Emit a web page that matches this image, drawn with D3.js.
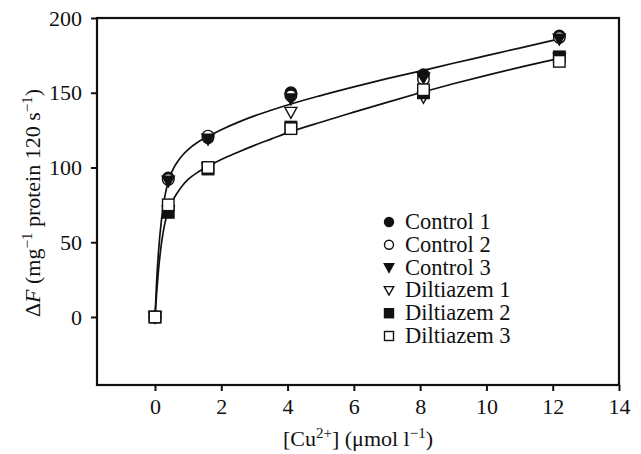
<!DOCTYPE html>
<html><head><meta charset="utf-8">
<script src="https://cdn.jsdelivr.net/npm/d3@7"></script>
<style>body{margin:0;background:#fff}</style>
</head><body>
<svg id="c" width="641" height="454"></svg>
<script>
// ---- data ----
const concentrations = [0, 0.4, 1.6, 4.1, 8.1, 12.2];
const control1   = [0, 93, 120, 150, 162, 188];
const control2   = [0, 92, 121, 148, 159, 187];
const control3   = [0, 91, 119, 146, 160, 186];
const diltiazem1 = [0, 71, 100, 137, 147, 173];
const diltiazem2 = [0, 70,  99, 127, 150, 174];
const diltiazem3 = [0, 75, 100, 126, 152, 171];
const seriesNames = ["Control 1", "Control 2", "Control 3", "Diltiazem 1", "Diltiazem 2", "Diltiazem 3"];
// fitted curves
const controlFitX   = [0, 0.05, 0.1, 0.2, 0.3, 0.42, 0.55, 0.7, 0.85, 1.0, 1.3, 1.62, 2.0, 2.5, 3.0, 3.5, 4.1, 5, 6, 7, 8, 9, 10, 11, 12.2];
const controlFitY   = [0, 24, 42, 66, 81, 92, 99, 104.5, 108.7, 112, 117, 121, 125.3, 130.2, 134.5, 138.3, 142.5, 148.1, 153.9, 159.4, 164.5, 169.7, 174.8, 179.9, 186];
const diltiazemFitX = [0, 0.05, 0.1, 0.2, 0.3, 0.42, 0.55, 0.7, 0.85, 1.0, 1.3, 1.62, 2.0, 2.5, 3.0, 3.5, 4.1, 5, 6, 7, 8, 9, 10, 11, 12.2];
const diltiazemFitY = [0, 16, 30, 50, 63, 72, 78.5, 84, 88.5, 92, 97, 101, 105.3, 110.2, 114.8, 119, 124, 130.3, 137, 143.6, 150, 156, 161.6, 167, 173];
const xTicks = [0, 2, 4, 6, 8, 10, 12, 14];
const yTicks = [0, 50, 100, 150, 200];

const seriesValues = [control1, control2, control3, diltiazem1, diltiazem2, diltiazem3];
const seriesShapes = ["circle", "circle", "triangle", "triangle", "square", "square"];
const seriesFilled = [true, false, true, false, true, false];

const W = 641, H = 454;
const m = {left: 97, right: 22, top: 18, bottom: 69};
const svg = d3.select("#c");
const font = "'Liberation Serif','Times New Roman',Times,serif";
const ink = "#111";

const x = d3.scaleLinear().domain([-1.75, 14]).range([m.left, W - m.right]);
const y = d3.scaleLinear().domain([-45.5, 200]).range([H - m.bottom, m.top]);

// axes
const gx = svg.append("g").attr("transform", `translate(0,${H - m.bottom})`)
  .call(d3.axisBottom(x).tickValues(xTicks).tickSize(6).tickPadding(7));
const gy = svg.append("g").attr("transform", `translate(${m.left},0)`)
  .call(d3.axisLeft(y).tickValues(yTicks).tickSize(6).tickPadding(9));
[gx, gy].forEach(g => {
  g.select(".domain").remove();
  g.selectAll("line").attr("stroke", ink).attr("stroke-width", 2);
  g.selectAll("text").attr("font-family", font).attr("font-size", 22).attr("fill", ink);
});

// frame
svg.append("rect")
  .attr("x", x.range()[0]).attr("y", y.range()[1])
  .attr("width", x.range()[1] - x.range()[0]).attr("height", y.range()[0] - y.range()[1])
  .attr("fill", "none").attr("stroke", ink).attr("stroke-width", 2.2);

// fitted curves
const line = d3.line().x(d => x(d[0])).y(d => y(d[1])).curve(d3.curveMonotoneX);
[[controlFitX, controlFitY], [diltiazemFitX, diltiazemFitY]].forEach(([xs, ys]) => {
  svg.append("path").datum(xs.map((v, i) => [v, ys[i]]))
    .attr("d", line).attr("fill", "none").attr("stroke", ink).attr("stroke-width", 1.7);
});

// markers
function drawMarker(g, shape, filled, cx, cy, size) {
  let el;
  if (shape === "circle") {
    el = g.append("circle").attr("cx", cx).attr("cy", cy).attr("r", size / 2);
  } else if (shape === "square") {
    el = g.append("rect").attr("x", cx - size / 2).attr("y", cy - size / 2).attr("width", size).attr("height", size);
  } else {
    const s = size * 1.05;
    el = g.append("path").attr("d", `M${cx - s / 2},${cy - s * 0.4}L${cx + s / 2},${cy - s * 0.4}L${cx},${cy + s * 0.5}Z`);
  }
  el.attr("fill", filled ? ink : "#fff").attr("stroke", ink).attr("stroke-width", 1.4);
}
const pts = svg.append("g");
seriesValues.forEach((vals, si) => {
  vals.forEach((v, i) => drawMarker(pts, seriesShapes[si], seriesFilled[si], x(concentrations[i]), y(v), 11.5));
});

// legend
const lg = svg.append("g");
seriesNames.forEach((name, i) => {
  const by = 229 + i * 22.8;
  drawMarker(lg, seriesShapes[i], seriesFilled[i], 389, by - 7, 9);
  lg.append("text").attr("x", 405).attr("y", by).text(name)
    .attr("font-family", font).attr("font-size", 22.5).attr("fill", ink);
});

// axis titles
const xt = svg.append("text").attr("x", (x.range()[0] + x.range()[1]) / 2).attr("y", 446)
  .attr("text-anchor", "middle").attr("font-family", font).attr("font-size", 22).attr("fill", ink);
xt.append("tspan").text("[Cu");
xt.append("tspan").text("2+").attr("font-size", 15).attr("dy", -8);
xt.append("tspan").text("] (μmol l").attr("dy", 8);
xt.append("tspan").text("−1").attr("font-size", 15).attr("dy", -8);
xt.append("tspan").text(")").attr("dy", 8);

const yt = svg.append("text").attr("transform", `translate(40,203) rotate(-90)`)
  .attr("text-anchor", "middle").attr("font-family", font).attr("font-size", 22).attr("fill", ink);
yt.append("tspan").text("Δ");
yt.append("tspan").text("F").attr("font-style", "italic");
yt.append("tspan").text(" (mg");
yt.append("tspan").text("−1").attr("font-size", 15).attr("dy", -8);
yt.append("tspan").text(" protein 120 s").attr("dy", 8);
yt.append("tspan").text("−1").attr("font-size", 15).attr("dy", -8);
yt.append("tspan").text(")").attr("dy", 8);
</script>
</body></html>
